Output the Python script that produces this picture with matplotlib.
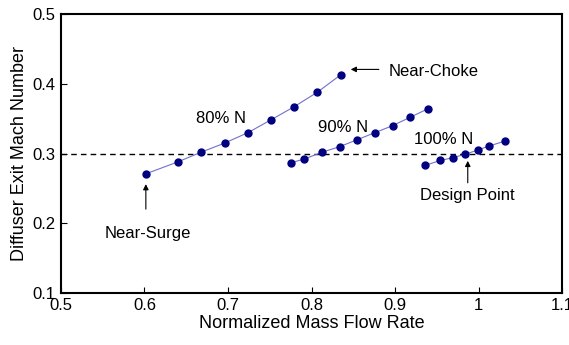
import matplotlib
matplotlib.use("Agg")
import matplotlib.pyplot as plt

plt.rcParams['font.family'] = ['Liberation Sans', 'DejaVu Sans']

# speed lines: normalized mass flow vs diffuser exit mach number
flow_80 = [0.602, 0.640, 0.668, 0.696, 0.724, 0.751, 0.779, 0.807, 0.835]
mach_80 = [0.271, 0.288, 0.302, 0.315, 0.330, 0.348, 0.367, 0.388, 0.413]

flow_90 = [0.776, 0.791, 0.813, 0.834, 0.855, 0.876, 0.897, 0.918, 0.939]
mach_90 = [0.287, 0.292, 0.302, 0.310, 0.320, 0.330, 0.340, 0.352, 0.364]

flow_100 = [0.936, 0.954, 0.969, 0.984, 0.999, 1.013, 1.032]
mach_100 = [0.283, 0.290, 0.294, 0.299, 0.305, 0.311, 0.318]

design_mach = 0.3

fig = plt.figure(figsize=(5.69, 3.45), dpi=100)
ax = fig.add_axes([0.107, 0.151, 0.881, 0.808])

for xs, ys in [(flow_80, mach_80), (flow_90, mach_90), (flow_100, mach_100)]:
    ax.plot(xs, ys, '-', color='#7070d0', lw=0.8, zorder=2)
    ax.plot(xs, ys, 'o', color='#000080', ms=5, mec='#000080', zorder=3)

ax.axhline(design_mach, color='black', lw=1.0, ls=(0, (4, 3)), zorder=1)

ax.set_xlim(0.5, 1.1)
ax.set_ylim(0.1, 0.5)
ax.set_xticks([0.5, 0.6, 0.7, 0.8, 0.9, 1.0, 1.1])
ax.set_xticklabels(['0.5', '0.6', '0.7', '0.8', '0.9', '1', '1.1'])
ax.set_yticks([0.1, 0.2, 0.3, 0.4, 0.5])
ax.tick_params(direction='in', length=4, width=0.8, labelsize=12, pad=4)
for s in ax.spines.values():
    s.set_linewidth(1.5)

ax.set_xlabel('Normalized Mass Flow Rate', fontsize=13, labelpad=1)
ax.set_ylabel('Diffuser Exit Mach Number', fontsize=13, labelpad=3)

fs = 12
ax.text(0.692, 0.3432, '80% N', fontsize=fs, ha='center', va='baseline')
ax.text(0.8373, 0.3311, '90% N', fontsize=fs, ha='center', va='baseline')
ax.text(0.9586, 0.3135, '100% N', fontsize=fs, ha='center', va='baseline')

arrow = dict(arrowstyle='-|>', color='black', lw=0.8, mutation_scale=8,
             shrinkA=0, shrinkB=0)
ax.annotate('', xy=(0.8469, 0.4207), xytext=(0.8806, 0.4207), arrowprops=arrow)
ax.text(0.8926, 0.411, 'Near-Choke', fontsize=fs, ha='left', va='baseline')

ax.annotate('', xy=(0.6017, 0.2561), xytext=(0.6017, 0.2202), arrowprops=arrow)
ax.text(0.6038, 0.1786, 'Near-Surge', fontsize=fs, ha='center', va='baseline')

ax.annotate('', xy=(0.987, 0.2895), xytext=(0.987, 0.258), arrowprops=arrow)
ax.text(0.987, 0.2331, 'Design Point', fontsize=fs, ha='center', va='baseline')

fig.savefig('out.png', dpi=100)
